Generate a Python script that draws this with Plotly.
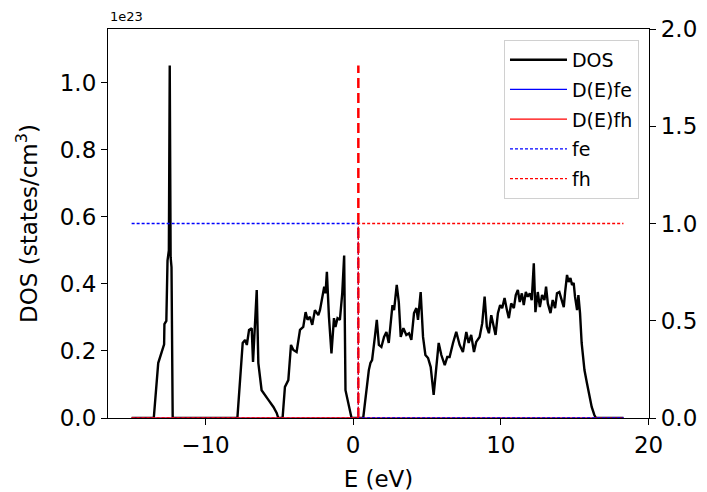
import plotly.graph_objects as go

# ---- data ----
E = [-15.0, -13.5, -13.2, -12.95, -12.8, -12.78, -12.65, -12.57, -12.48, -12.42, -12.36, -12.3, -12.22,
     -7.84, -7.48, -7.32, -7.2, -7.05, -6.87, -6.78, -6.69, -6.53, -6.42, -6.2, -5.74, -5.4, -5.18, -5.07,
     -4.78, -4.62, -4.39, -4.21, -4.05, -3.83, -3.6, -3.38, -3.22, -3.09, -2.93, -2.77, -2.59, -2.36,
     -2.25, -2.09, -1.96, -1.87, -1.78, -1.64, -1.47, -1.3, -1.2, -1.06, -0.9, -0.74, -0.61, -0.52,
     -0.34, -0.11, 0.68, 0.9, 1.06, 1.17, 1.28, 1.47, 1.6, 1.74, 1.91, 2.09, 2.25, 2.41, 2.55, 2.66,
     2.77, 2.95, 3.09, 3.22, 3.4, 3.6, 3.78, 3.94, 4.12, 4.28, 4.39, 4.57, 4.73, 4.89, 5.07, 5.25,
     5.45, 5.63, 5.79, 5.97, 6.2, 6.37, 6.53, 6.76, 6.98, 7.21, 7.43, 7.66, 7.82, 7.99, 8.18, 8.33,
     8.56, 8.74, 8.9, 9.05, 9.19, 9.35, 9.5, 9.64, 9.8, 9.95, 10.09, 10.25, 10.41, 10.54, 10.7, 10.88,
     11.01, 11.15, 11.28, 11.42, 11.55, 11.69, 11.82, 11.96, 12.09, 12.23, 12.34, 12.5, 12.64, 12.79,
     12.95, 13.06, 13.18, 13.36, 13.51, 13.67, 13.8, 13.96, 14.12, 14.26, 14.35, 14.48, 14.59, 14.71,
     14.82, 14.93, 15.02, 15.16, 15.25, 15.36, 15.47, 15.66, 15.83, 15.99, 16.15, 16.33, 16.44, 18.3]
DOS = [0.0, 0.0, 0.164, 0.20, 0.22, 0.28, 0.29, 0.47, 0.50, 1.052, 0.48, 0.45, 0.0,
       0.0, 0.224, 0.233, 0.218, 0.263, 0.268, 0.167, 0.253, 0.382, 0.164, 0.083, 0.054, 0.033, 0.015, 0.0,
       0.0, 0.093, 0.113, 0.218, 0.203, 0.197, 0.263, 0.272, 0.316, 0.293, 0.302, 0.278, 0.322, 0.307,
       0.322, 0.362, 0.392, 0.372, 0.436, 0.302, 0.193, 0.298, 0.272, 0.298, 0.293, 0.372, 0.485, 0.083,
       0.045, 0.0, 0.0, 0.083, 0.143, 0.164, 0.173, 0.242, 0.293, 0.218, 0.212, 0.242, 0.257, 0.224, 0.283, 0.337,
       0.322, 0.397, 0.346, 0.242, 0.268, 0.248, 0.253, 0.233, 0.313, 0.328, 0.293, 0.376, 0.242, 0.188, 0.179, 0.152,
       0.069, 0.164, 0.224, 0.188, 0.158, 0.182, 0.182, 0.224, 0.257, 0.218, 0.197, 0.257, 0.224, 0.248, 0.197, 0.227,
       0.242, 0.283, 0.362, 0.272, 0.253, 0.307, 0.272, 0.248, 0.313, 0.337, 0.328, 0.358, 0.322, 0.298, 0.342, 0.328,
       0.367, 0.382, 0.346, 0.372, 0.337, 0.376, 0.362, 0.372, 0.352, 0.462, 0.316, 0.376, 0.331, 0.367,
       0.352, 0.392, 0.342, 0.313, 0.352, 0.328, 0.372, 0.376, 0.352, 0.331, 0.376, 0.427, 0.406, 0.418,
       0.397, 0.403, 0.362, 0.322, 0.367, 0.313, 0.224, 0.143, 0.104, 0.063, 0.033, 0.009, 0.0, 0.0]

EF = 0.35  # Fermi level (eV)

E_occ = [-15.0, EF, EF, 18.3]
fe = [1, 1, 0, 0]
fh = [0, 0, 1, 1]
E_prod = [-15.0, 18.3]
DEfe = [0, 0]
DEfh = [0, 0]

x_ticks = [-10, 0, 10, 20]
x_ticktext = ["\u221210", "0", "10", "20"]
y1_ticks = [0.0, 0.2, 0.4, 0.6, 0.8, 1.0]
y2_ticks = [0.0, 0.5, 1.0, 1.5, 2.0]

FONT = "DejaVu Sans"
BLUE = "#0000ff"
RED = "#ff0000"

fig = go.Figure()
fig.add_trace(go.Scatter(x=E, y=DOS, mode="lines", name="DOS", legendgroup="a",
                         line=dict(color="black", width=2.4)))
fig.add_trace(go.Scatter(x=E_prod, y=DEfe, mode="lines", name="D(E)fe", legendgroup="b",
                         line=dict(color=BLUE, width=1.2)))
fig.add_trace(go.Scatter(x=E_prod, y=DEfh, mode="lines", name="D(E)fh", legendgroup="c",
                         line=dict(color=RED, width=1.2)))
fig.add_trace(go.Scatter(x=[EF, EF], y=[0, max(DOS)], mode="lines", showlegend=False,
                         line=dict(color=RED, width=2.5, dash="10px,5px")))
fig.add_trace(go.Scatter(x=E_occ, y=fe, mode="lines", name="fe", legendgroup="d", yaxis="y2",
                         line=dict(color=BLUE, width=1.3, dash="3px,2px")))
fig.add_trace(go.Scatter(x=E_occ, y=fh, mode="lines", name="fh", legendgroup="e", yaxis="y2",
                         line=dict(color=RED, width=1.3, dash="3px,2px")))

axis_common = dict(showgrid=False, zeroline=False, showline=True, linecolor="black", linewidth=1.2,
                   ticks="outside", ticklen=6, tickcolor="black", tickwidth=1.2, automargin=False,
                   tickfont=dict(family=FONT, size=23, color="black"))

fig.update_layout(
    width=707, height=492,
    margin=dict(l=108, r=58, t=29, b=74),
    plot_bgcolor="white", paper_bgcolor="white",
    font=dict(family=FONT, color="black"),
    xaxis=dict(range=[-16.6, 20.03], tickvals=x_ticks, ticktext=x_ticktext, mirror=True,
               title=dict(text="E (eV)", font=dict(family=FONT, size=23), standoff=15), **axis_common),
    yaxis=dict(range=[0, 1.161], tickvals=y1_ticks, tickformat=".1f",
               title=dict(text="DOS (states/cm<sup>3</sup>)", font=dict(family=FONT, size=23), standoff=15),
               **axis_common),
    yaxis2=dict(range=[0, 2.0], tickvals=y2_ticks, tickformat=".1f", overlaying="y", side="right",
                **axis_common),
    legend=dict(x=0.9815, y=0.972, xanchor="right", yanchor="top", bgcolor="white",
                bordercolor="#d0d0d0", borderwidth=1, font=dict(family=FONT, size=19),
                tracegroupgap=2, itemwidth=57),
    annotations=[dict(text="1e23", x=0, y=1, xref="paper", yref="paper", xanchor="left",
                      yanchor="bottom", yshift=3, showarrow=False,
                      font=dict(family=FONT, size=13, color="black"))],
    showlegend=True,
)

fig.write_html("out.html")
